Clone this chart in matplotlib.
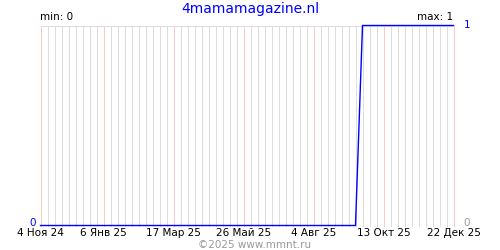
import numpy as np
import matplotlib
matplotlib.use("Agg")
import matplotlib.pyplot as plt
import matplotlib.dates as mdates
import datetime as dt

title = "4mamamagazine.nl"
start_date = dt.date(2024, 11, 4)
end_date = dt.date(2025, 12, 22)
# weekly points, 4 Nov 24 .. 22 Dec 25
values = [0, 0, 0, 0, 0, 0, 0, 0, 0, 0,
          0, 0, 0, 0, 0, 0, 0, 0, 0, 0,
          0, 0, 0, 0, 0, 0, 0, 0, 0, 0,
          0, 0, 0, 0, 0, 0, 0, 0, 0, 0,
          0, 0, 0, 0, 0, 0, 1, 1, 1, 1,
          1, 1, 1, 1, 1, 1, 1, 1, 1, 1]
tick_dates = [dt.date(2024, 11, 4), dt.date(2025, 1, 6), dt.date(2025, 3, 17),
              dt.date(2025, 5, 26), dt.date(2025, 8, 4), dt.date(2025, 10, 13),
              dt.date(2025, 12, 22)]
tick_labels = ["4 Ноя 24", "6 Янв 25", "17 Мар 25", "26 Май 25",
               "4 Авг 25", "13 Окт 25", "22 Дек 25"]
y_min, y_max = 0, 1

dates = [start_date + dt.timedelta(weeks=i) for i in range(len(values))]

fig = plt.figure(figsize=(5, 2.5), dpi=100)
# half-pixel offset so 1px lines land on pixel centres
ax = fig.add_axes([40.5 / 500, 24.5 / 250, 413 / 500, 200 / 250])

ax.set_xlim(mdates.date2num(start_date), mdates.date2num(end_date))
ax.set_ylim(y_min, y_max)

# weekly grey grid, red at the labelled dates
for d in dates:
    ax.axvline(mdates.date2num(d), color="#dddddd", lw=0.72, zorder=1, clip_on=False)
for d in tick_dates:
    ax.axvline(mdates.date2num(d), color="#ffc8c8", lw=0.72, zorder=1.5, clip_on=False)

ax.plot(mdates.date2num(dates), values, color="#0000ff", lw=1.0, zorder=3, clip_on=False)

for s in ["left", "right", "bottom"]:
    ax.spines[s].set_visible(False)
ax.spines["top"].set_color("#dddddd")
ax.spines["top"].set_linewidth(0.72)

ax.set_xticks(mdates.date2num(tick_dates))
ax.set_xticklabels(tick_labels, fontsize=7.5)
ax.tick_params(axis="x", length=0, pad=2)
ax.set_yticks([])

ax.text(0.0, 1.02, "min: 0", transform=ax.transAxes, fontsize=7.5, ha="left", va="bottom")
ax.text(1.0, 1.02, "max: 1", transform=ax.transAxes, fontsize=7.5, ha="right", va="bottom")
ax.text(1.025, 1.0, "1", transform=ax.transAxes, fontsize=7.5, color="#0000ff", ha="left", va="center")
ax.text(1.025, 0.01, "0", transform=ax.transAxes, fontsize=7.5, color="#999999", ha="left", va="center")
ax.text(-0.01, 0.01, "0", transform=ax.transAxes, fontsize=7.5, color="#0000ff", ha="right", va="center")

fig.text(0.5, 0.966, title, fontsize=10, color="#0000ff", ha="center", va="center")
fig.text(0.51, 0.022, "©2025 www.mmnt.ru", fontsize=7.5, color="#999999", ha="center", va="center")

fig.savefig("out.png", dpi=100)
